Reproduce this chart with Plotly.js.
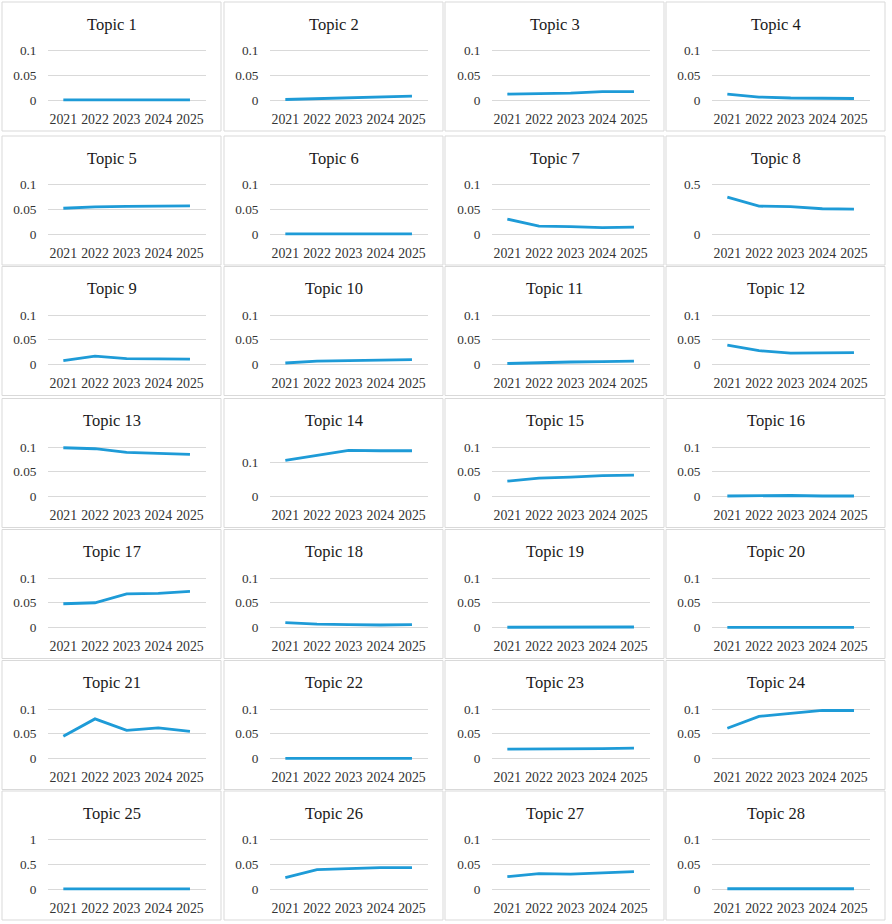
<!DOCTYPE html>
<html>
<head>
<meta charset="utf-8">
<script src="https://cdn.plot.ly/plotly-3.0.1.min.js"></script>
<style>
  html, body { margin: 0; padding: 0; background: #ffffff; }
  #chart { width: 892px; height: 924px; }
</style>
</head>
<body>
<div id="chart"></div>
<script>
// ---- Data ----
const years = ['2021', '2022', '2023', '2024', '2025'];

const topic1  = [0.0003, 0.0003, 0.0003, 0.0003, 0.0003];
const topic2  = [0.001, 0.003, 0.005, 0.007, 0.008];
const topic3  = [0.012, 0.013, 0.014, 0.017, 0.017];
const topic4  = [0.012, 0.006, 0.004, 0.003, 0.003];
const topic5  = [0.052, 0.055, 0.056, 0.057, 0.057];
const topic6  = [0.0003, 0.0003, 0.0003, 0.0003, 0.0003];
const topic7  = [0.030, 0.016, 0.015, 0.013, 0.014];
const topic8  = [0.372, 0.281, 0.277, 0.255, 0.252];
const topic9  = [0.008, 0.017, 0.012, 0.012, 0.011];
const topic10 = [0.003, 0.007, 0.008, 0.009, 0.010];
const topic11 = [0.002, 0.004, 0.005, 0.006, 0.007];
const topic12 = [0.039, 0.028, 0.023, 0.024, 0.024];
const topic13 = [0.0985, 0.0965, 0.089, 0.087, 0.085];
const topic14 = [0.106, 0.120, 0.135, 0.134, 0.134];
const topic15 = [0.031, 0.037, 0.039, 0.042, 0.043];
const topic16 = [0.001, 0.002, 0.002, 0.001, 0.001];
const topic17 = [0.048, 0.050, 0.068, 0.069, 0.073];
const topic18 = [0.010, 0.007, 0.006, 0.005, 0.006];
const topic19 = [0.0005, 0.0005, 0.001, 0.001, 0.001];
const topic20 = [0.0003, 0.0003, 0.0003, 0.0003, 0.0003];
const topic21 = [0.045, 0.080, 0.057, 0.062, 0.055];
const topic22 = [0.0003, 0.0003, 0.0003, 0.0003, 0.0003];
const topic23 = [0.019, 0.019, 0.020, 0.020, 0.021];
const topic24 = [0.061, 0.085, 0.091, 0.097, 0.097];
const topic25 = [0.001, 0.001, 0.001, 0.001, 0.001];
const topic26 = [0.023, 0.039, 0.041, 0.043, 0.043];
const topic27 = [0.025, 0.031, 0.030, 0.033, 0.035];
const topic28 = [0.0005, 0.0005, 0.001, 0.001, 0.0005];

const topicNames = [];
for (let i = 1; i <= 28; i++) topicNames.push('Topic ' + i);

const series = [topic1, topic2, topic3, topic4, topic5, topic6, topic7, topic8,
  topic9, topic10, topic11, topic12, topic13, topic14, topic15, topic16,
  topic17, topic18, topic19, topic20, topic21, topic22, topic23, topic24,
  topic25, topic26, topic27, topic28];

// y-axis tick values (labels) per panel
const ticksDefault = [0, 0.05, 0.1];
const ticksTopic8  = [0, 0.5];
const ticksTopic14 = [0, 0.1];
const ticksTopic25 = [0, 0.5, 1];
// y-axis maximum per panel
const axisMaxDefault = 0.1;
const axisMaxTopic8  = 0.5;
const axisMaxTopic14 = 0.145;
const axisMaxTopic25 = 1;

// ---- Layout geometry ----
const W = 892, H = 924;
const colOffset = [0, 222, 444, 664];
const panelLeft = [2, 224, 445, 666];
const panelW = 219;
const zeroY = [100, 234, 364.5, 496.5, 627.5, 758.5, 889];
const plotL = 47.5, plotR = 205.8, plotH = 49.5, pad = 3;
const lineColor = '#1e9bd7';
const gridColor = '#d9d9d9';
const fontFam = '"Liberation Serif", "Times New Roman", serif';

const data = [];
const layout = {
  width: W, height: H,
  margin: {l: 0, r: 0, t: 0, b: 0, pad: 0},
  paper_bgcolor: '#ffffff',
  plot_bgcolor: 'rgba(0,0,0,0)',
  showlegend: false,
  annotations: [],
  shapes: [],
  font: {family: fontFam, color: '#333333'}
};

for (let i = 0; i < 28; i++) {
  const r = Math.floor(i / 4), c = i % 4;
  const n = i + 1;
  const xs = n === 1 ? '' : String(n);
  let ticks = ticksDefault, ymax = axisMaxDefault;
  if (n === 8) { ticks = ticksTopic8; ymax = axisMaxTopic8; }
  if (n === 14) { ticks = ticksTopic14; ymax = axisMaxTopic14; }
  if (n === 25) { ticks = ticksTopic25; ymax = axisMaxTopic25; }
  const upp = ymax / plotH;

  data.push({
    type: 'scatter', mode: 'lines',
    x: years, y: series[i],
    xaxis: 'x' + xs, yaxis: 'y' + xs,
    line: {color: lineColor, width: 2.8},
    hoverinfo: 'skip'
  });

  layout['xaxis' + xs] = {
    domain: [(colOffset[c] + plotL) / W, (colOffset[c] + plotR) / W],
    anchor: 'y' + xs,
    type: 'category',
    range: [-0.5, 4.5],
    showgrid: false, zeroline: false, showline: false,
    ticks: '',
    ticklabelstandoff: 6,
    tickfont: {family: fontFam, size: 13.8, color: '#333333'},
    fixedrange: true
  };
  layout['yaxis' + xs] = {
    domain: [1 - (zeroY[r] + pad) / H, 1 - (zeroY[r] - plotH - pad) / H],
    anchor: 'x' + xs,
    range: [-pad * upp, ymax + pad * upp],
    tickmode: 'array',
    tickvals: ticks,
    ticktext: ticks.map(v => String(v)),
    showgrid: true, gridcolor: gridColor, gridwidth: 1,
    zeroline: false, showline: false,
    ticks: '',
    ticklabelstandoff: 10,
    tickfont: {family: fontFam, size: 13.3, color: '#333333'},
    fixedrange: true
  };

  layout.annotations.push({
    xref: 'paper', yref: 'paper',
    x: (panelLeft[c] + panelW / 2) / W,
    y: 1 - (zeroY[r] - 76) / H,
    xanchor: 'center', yanchor: 'middle',
    text: topicNames[i], showarrow: false,
    font: {family: fontFam, size: 16.5, color: '#1a1a1a'}
  });

  layout.shapes.push({
    type: 'rect', xref: 'paper', yref: 'paper', layer: 'below',
    x0: panelLeft[c] / W, x1: (panelLeft[c] + panelW) / W,
    y0: 1 - (zeroY[r] + 31) / H, y1: 1 - (zeroY[r] - 98) / H,
    line: {color: gridColor, width: 1},
    fillcolor: '#ffffff'
  });
}

Plotly.newPlot('chart', data, layout, {displayModeBar: false, staticPlot: true});
</script>
</body>
</html>
